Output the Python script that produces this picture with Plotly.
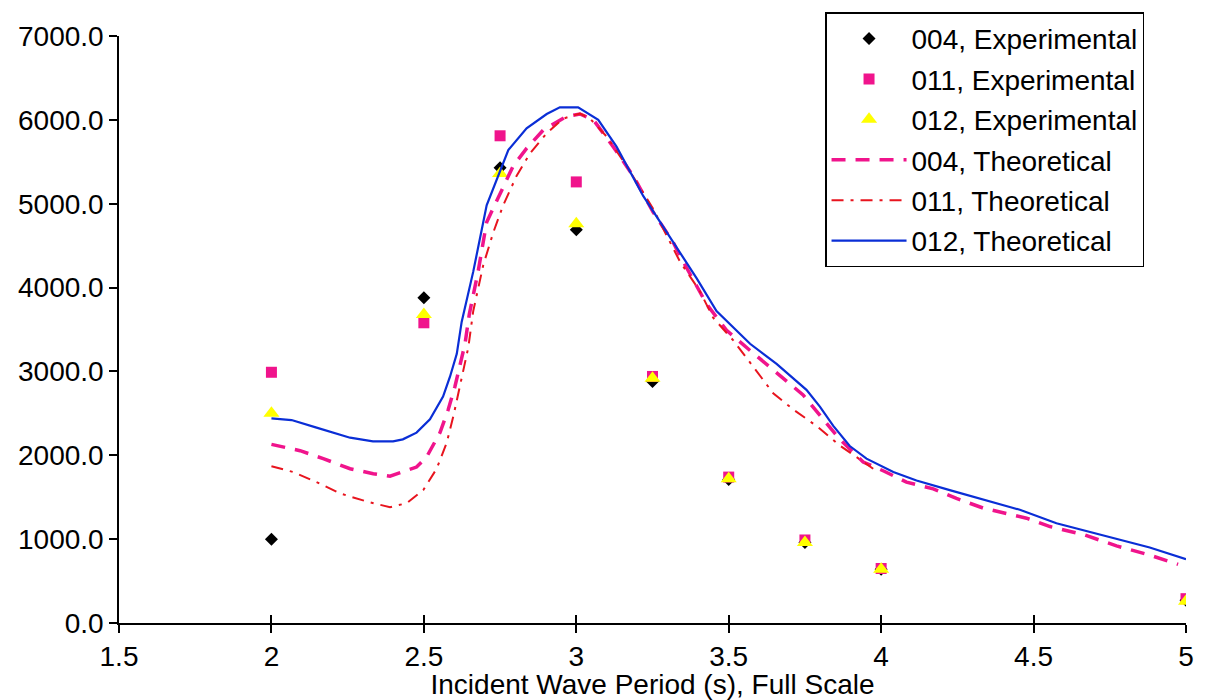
import plotly.graph_objects as go

# Experimental data
x_exp = [2, 2.5, 2.75, 3, 3.25, 3.5, 3.75, 4, 5]
exp_004 = [1000, 3880, 5430, 4690, 2880, 1710, 960, 640, 270]
exp_011 = [2990, 3580, 5810, 5260, 2940, 1740, 990, 650, 290]
exp_012 = [2500, 3680, 5360, 4760, 2920, 1720, 960, 640, 260]

# Theoretical 004
x_t004 = [2.0, 2.094, 2.17, 2.258, 2.334, 2.389, 2.476, 2.509, 2.553, 2.58, 2.602, 2.618,
          2.635, 2.649, 2.678, 2.706, 2.75, 2.793, 2.837, 2.892, 2.968, 3.012, 3.056, 3.121,
          3.187, 3.252, 3.318, 3.34, 3.428, 3.493, 3.57, 3.679, 3.744, 3.81, 3.865, 3.941,
          4.01, 4.083, 4.171, 4.247, 4.335, 4.477, 4.554, 4.663, 4.772, 4.881, 4.974]
y_t004 = [2130, 2055, 1960, 1840, 1780, 1750, 1860, 1980, 2270, 2545, 2820, 3090,
          3330, 3680, 4190, 4780, 5130, 5450, 5660, 5880, 6040, 6070, 6000, 5680,
          5330, 4900, 4540, 4380, 3800, 3490, 3250, 2920, 2720, 2430, 2190, 1920,
          1810, 1680, 1600, 1485, 1370, 1250, 1150, 1055, 920, 810, 700]

# Theoretical 011
x_t011 = [2.0, 2.072, 2.148, 2.225, 2.312, 2.389, 2.444, 2.498, 2.542, 2.575, 2.597, 2.613,
          2.629, 2.646, 2.662, 2.695, 2.728, 2.76, 2.804, 2.848, 2.903, 2.957, 3.012, 3.045,
          3.1, 3.165, 3.252, 3.34, 3.405, 3.449, 3.515, 3.58, 3.646, 3.712, 3.788, 3.865, 3.974]
y_t011 = [1870, 1800, 1680, 1545, 1450, 1380, 1430, 1585, 1840, 2150, 2470, 2740,
          3015, 3290, 3720, 4270, 4660, 4980, 5330, 5600, 5840, 6015, 6075, 6015,
          5800, 5450, 4940, 4310, 3960, 3640, 3370, 3055, 2740, 2545, 2350, 2115, 1840]

# Theoretical 012
x_t012 = [2.0, 2.066, 2.148, 2.258, 2.333, 2.399, 2.431, 2.476, 2.52, 2.563, 2.586, 2.608,
          2.624, 2.662, 2.706, 2.739, 2.777, 2.837, 2.903, 2.946, 3.006, 3.072, 3.132, 3.22,
          3.34, 3.395, 3.46, 3.515, 3.57, 3.657, 3.755, 3.799, 3.843, 3.897, 3.952, 4.04,
          4.116, 4.225, 4.335, 4.455, 4.575, 4.717, 4.881, 5.0]
y_t012 = [2440, 2420, 2330, 2210, 2165, 2165, 2190, 2270, 2430, 2700, 2940, 3210,
          3590, 4190, 4980, 5290, 5640, 5900, 6070, 6150, 6150, 6000, 5680, 5090,
          4410, 4110, 3720, 3530, 3330, 3090, 2780, 2580, 2350, 2110, 1960, 1800,
          1700, 1585, 1470, 1350, 1190, 1055, 900, 760]

x_ticks = [1.5, 2, 2.5, 3, 3.5, 4, 4.5, 5]
x_ticklabels = ["1.5", "2", "2.5", "3", "3.5", "4", "4.5", "5"]
y_ticks = [0, 1000, 2000, 3000, 4000, 5000, 6000, 7000]

PINK = "#F0148C"
RED = "#E8141E"
BLUE = "#0A2ED6"
FONT = "Liberation Sans, Arial, sans-serif"

fig = go.Figure()
fig.add_trace(go.Scatter(x=x_exp, y=exp_004, mode="markers", name="004, Experimental",
                         legendgroup="a",
                         marker=dict(symbol="diamond", size=10, color="black")))
fig.add_trace(go.Scatter(x=x_exp, y=exp_011, mode="markers", name="011, Experimental",
                         legendgroup="b",
                         marker=dict(symbol="square", size=11, color=PINK)))
fig.add_trace(go.Scatter(x=x_exp, y=exp_012, mode="markers", name="012, Experimental",
                         legendgroup="c",
                         marker=dict(symbol="triangle-up", size=14, color="#FFFF00")))
fig.add_trace(go.Scatter(x=x_t004, y=y_t004, mode="lines", name="004, Theoretical",
                         legendgroup="d",
                         line=dict(color=PINK, width=3.5, dash="14px,10px")))
fig.add_trace(go.Scatter(x=x_t011, y=y_t011, mode="lines", name="011, Theoretical",
                         legendgroup="e",
                         line=dict(color=RED, width=2, dash="12px,7px,3px,7px")))
fig.add_trace(go.Scatter(x=x_t012, y=y_t012, mode="lines", name="012, Theoretical",
                         legendgroup="f",
                         line=dict(color=BLUE, width=2.2)))
# invisible trace on overlay axis for crossing x ticks
fig.add_trace(go.Scatter(x=[1.5, 5], y=[0, 0], xaxis="x2", mode="markers",
                         marker=dict(opacity=0), showlegend=False, hoverinfo="skip"))

fig.update_layout(
    width=1205, height=700,
    margin=dict(l=119, r=19, t=28, b=77),
    paper_bgcolor="white", plot_bgcolor="white",
    font=dict(family=FONT, size=28, color="black"),
    showlegend=True,
    legend=dict(x=0.6617, y=1.0403, xanchor="left", yanchor="top",
                bordercolor="black", borderwidth=1.5, bgcolor="white",
                font=dict(size=28), itemwidth=75, tracegroupgap=1,
                traceorder="grouped"),
    xaxis=dict(range=[1.5, 5], tickvals=x_ticks, ticktext=x_ticklabels,
               showgrid=False, zeroline=False, showline=True, linecolor="black",
               linewidth=1.5, ticks="outside", ticklen=8, tickcolor="black",
               tickwidth=1.5,
               title=dict(text="Incident Wave Period (s), Full Scale", standoff=0,
                          font=dict(size=28)),
               automargin=False),
    xaxis2=dict(range=[1.5, 5], overlaying="x", anchor="y", side="bottom",
                tickvals=x_ticks, showticklabels=False, showgrid=False,
                zeroline=False, showline=False, ticks="inside", ticklen=8,
                tickcolor="black", tickwidth=1.5),
    yaxis=dict(range=[0, 7000], tickvals=y_ticks, tickformat=".1f",
               showgrid=False, zeroline=False, showline=True, linecolor="black",
               linewidth=1.5, ticks="outside", ticklen=8, tickcolor="black",
               tickwidth=1.5, automargin=False),
)

fig.write_html("out.html",
               config={"displayModeBar": False},
               post_script="document.body.style.margin='0';document.body.style.overflow='hidden';")
